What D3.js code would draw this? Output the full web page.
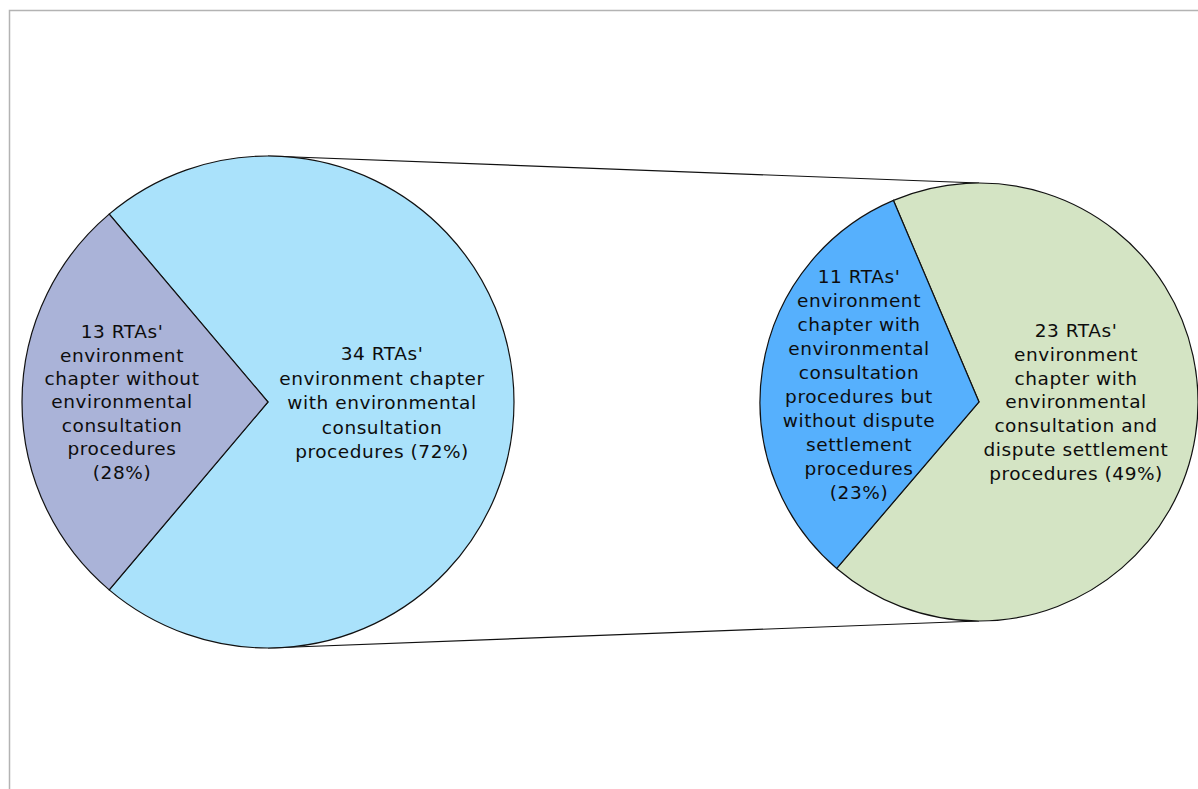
<!DOCTYPE html>
<html><head><meta charset="utf-8">
<script src="https://cdn.jsdelivr.net/npm/d3@7"></script>
<style>body{margin:0;background:#fff}svg{display:block}</style>
</head><body><div id="chart"></div>
<script>
// Main pie
const mainCategories = ["34 RTAs' environment chapter with environmental consultation procedures", "13 RTAs' environment chapter without environmental consultation procedures"];
const mainValues = [34, 13];
const mainPercents = ["72%", "28%"];
const mainLabelLines = [
  ["34 RTAs'", "environment chapter", "with environmental", "consultation", "procedures (72%)"],
  ["13 RTAs'", "environment", "chapter without", "environmental", "consultation", "procedures", "(28%)"]
];
// Secondary pie (breakdown of the 34)
const subCategories = ["23 RTAs' with consultation and dispute settlement", "11 RTAs' with consultation but without dispute settlement"];
const subValues = [23, 11];
const subPercents = ["49%", "23%"];
const subLabelLines = [
  ["23 RTAs'", "environment", "chapter with", "environmental", "consultation and", "dispute settlement", "procedures (49%)"],
  ["11 RTAs'", "environment", "chapter with", "environmental", "consultation", "procedures but", "without dispute", "settlement", "procedures", "(23%)"]
];
const mainColors = ["#aae2fb", "#aab3d8"];
const subColors = ["#d4e4c4", "#56b0fd"];

const W = 1198, H = 789;
const svg = d3.select("#chart").append("svg").attr("width", W).attr("height", H);

svg.append("rect").attr("x", 9.5).attr("y", 10.5).attr("width", W + 20).attr("height", H + 20)
  .attr("fill", "none").attr("stroke", "#b3b3b3").attr("stroke-width", 1.5);

const deg = Math.PI / 180;
const L = {cx: 268, cy: 402, r: 246};
const R = {cx: 979, cy: 402, r: 219};

// connector lines
svg.append("line").attr("x1", L.cx).attr("y1", L.cy - L.r).attr("x2", R.cx).attr("y2", R.cy - R.r)
  .attr("stroke", "#111").attr("stroke-width", 1.2);
svg.append("line").attr("x1", L.cx).attr("y1", L.cy + L.r).attr("x2", R.cx).attr("y2", R.cy + R.r)
  .attr("stroke", "#111").attr("stroke-width", 1.2);

function drawPie(c, values, colors, startDeg, labels, labelPos) {
  const pie = d3.pie().sort(null).value(d => d).startAngle(startDeg * deg).endAngle(startDeg * deg + 2 * Math.PI);
  const arc = d3.arc().innerRadius(0).outerRadius(c.r);
  const g = svg.append("g").attr("transform", `translate(${c.cx},${c.cy})`);
  g.selectAll("path").data(pie(values)).join("path")
    .attr("d", arc).attr("fill", (d, i) => colors[i])
    .attr("stroke", "#111").attr("stroke-width", 1.2).attr("stroke-linejoin", "miter");
  labels.forEach((lines, i) => {
    const p = labelPos[i];
    const t = svg.append("text").attr("text-anchor", "middle")
      .style("font-family", '"DejaVu Sans"').style("font-size", "18.5px")
      .style("letter-spacing", "0.55px").style("fill", "#0d0d0d");
    const n = lines.length;
    lines.forEach((ln, j) => {
      t.append("tspan").attr("x", p[0]).attr("y", p[1] + (j - (n - 1) / 2) * p[2]).attr("dy", "0.35em").text(ln);
    });
  });
}

// main pie: 13 slice centered at 270°
const smallSpan = 360 * mainValues[1] / d3.sum(mainValues);
drawPie(L, mainValues, mainColors, 270 + smallSpan / 2, mainLabelLines, [[382, 403, 24.5], [122, 402, 23.4]]);
drawPie(R, subValues, subColors, 337, subLabelLines, [[1076, 402, 23.8], [859, 385, 24]]);
</script></body></html>
